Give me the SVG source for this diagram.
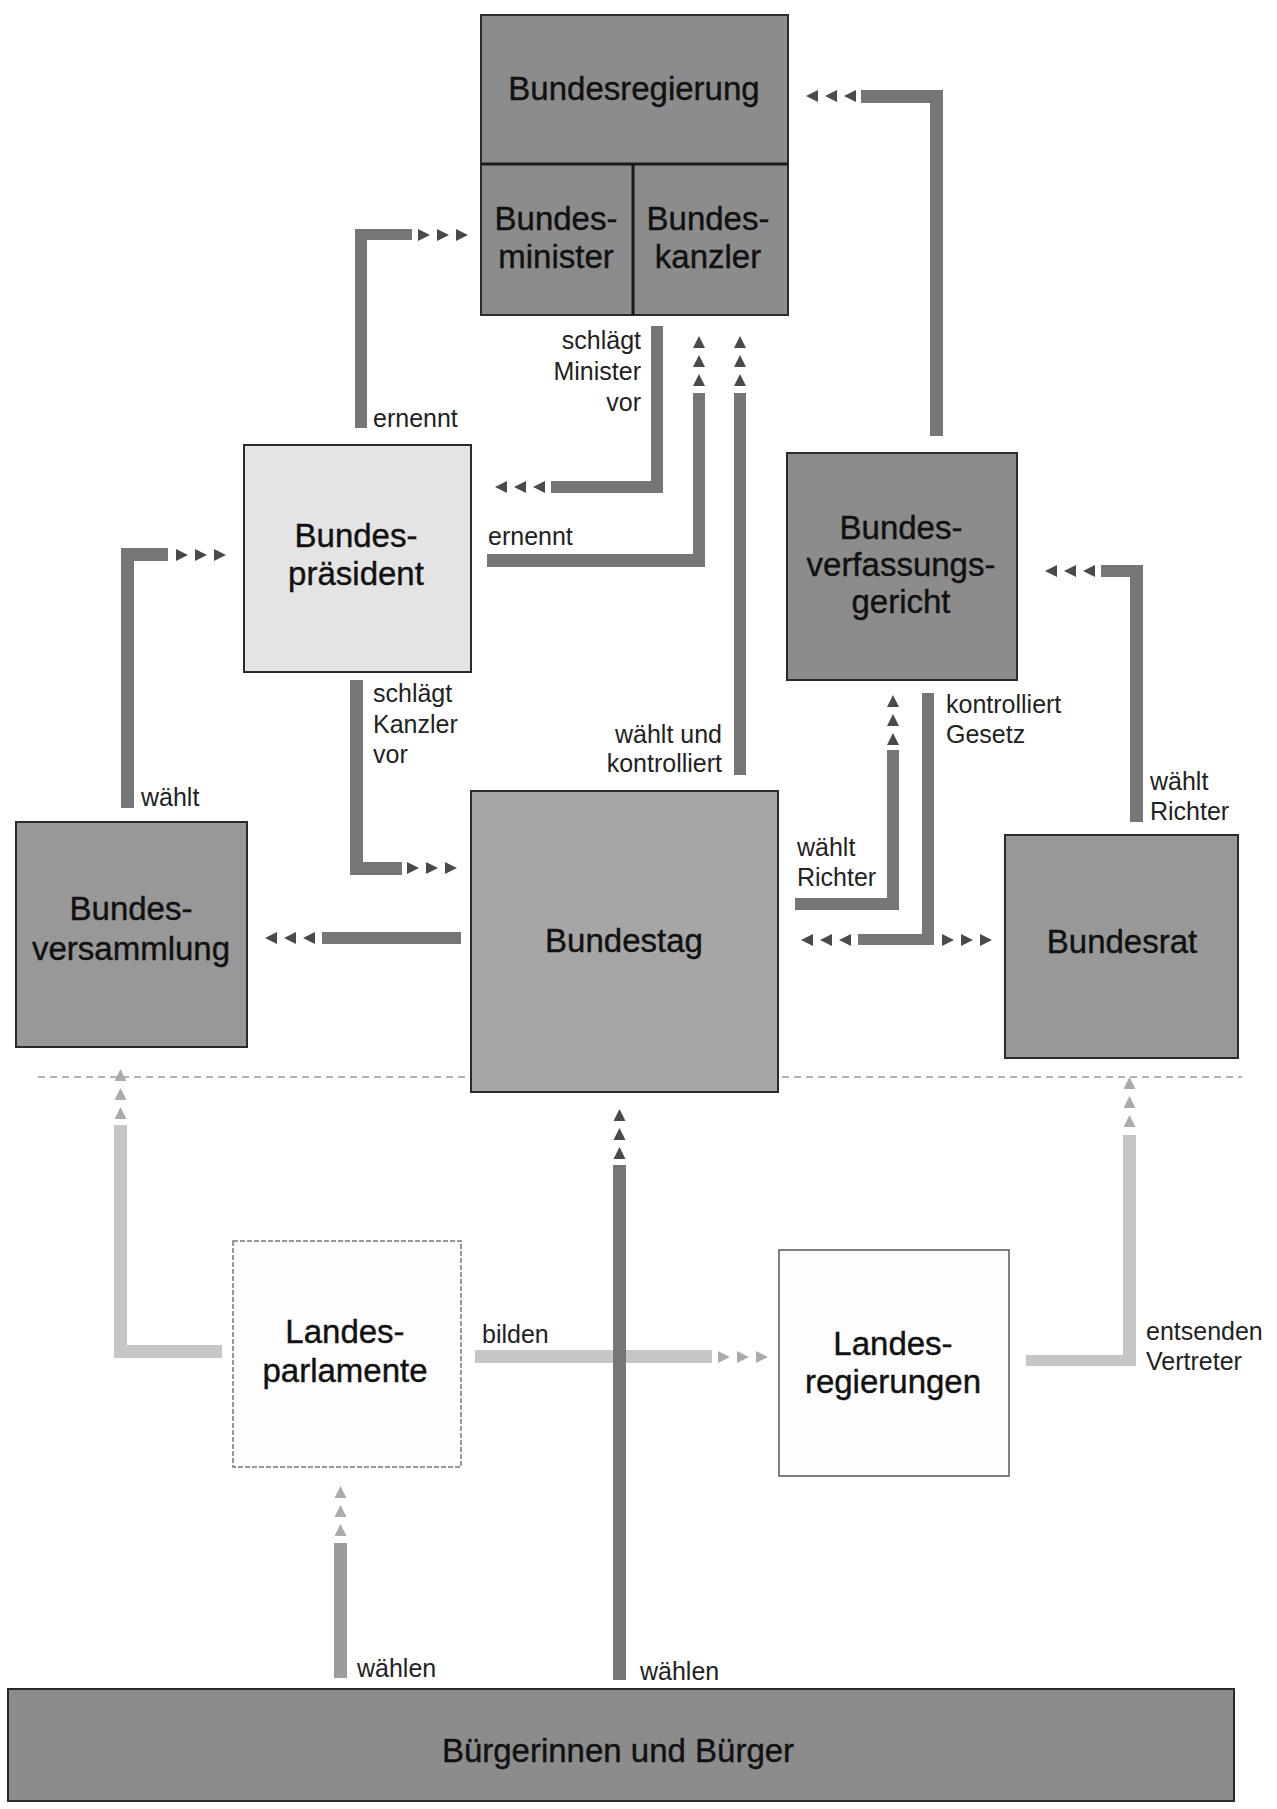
<svg xmlns="http://www.w3.org/2000/svg" width="1277" height="1809" viewBox="0 0 1277 1809">
<style>
.node{stroke:#2a2a2a;stroke-width:2}
.dark{fill:#8c8c8c}
.mid{fill:#989898}
.midl{fill:#a6a6a6}
.light{fill:#e4e4e4}
.white{fill:#fdfdfd;stroke:#555;stroke-width:1.5}
.nt{font-family:"Liberation Sans",Arial,sans-serif;font-size:33px;fill:#111;stroke:#111;stroke-width:0.4;text-anchor:middle}
.lb{font-family:"Liberation Sans",Arial,sans-serif;font-size:25px;fill:#222}
.r{text-anchor:end}
.bar{fill:#767676}
.barl{fill:#c6c6c6}
.barm{fill:#9c9c9c}
.ah{fill:#4a4a4a}
.ahl{fill:#ababab}
</style>
<defs>
<g id="tri3">
<polygon points="0,-6 12,0 0,6"/>
<polygon points="19,-6 31,0 19,6"/>
<polygon points="38,-6 50,0 38,6"/>
</g>
</defs>
<rect width="1277" height="1809" fill="#ffffff"/>
<line x1="38" y1="1077" x2="1242" y2="1077" stroke="#9a9a9a" stroke-width="1.5" stroke-dasharray="7 5"/>

<g id="connectors">
<!-- BP -> Bundesminister: ernennt -->
<rect class="bar" x="355" y="229" width="12" height="199"/>
<rect class="bar" x="355" y="229" width="57" height="11"/>
<use href="#tri3" class="ah" transform="translate(418,235)"/>
<text class="lb" x="373" y="427">ernennt</text>
<!-- Kanzler -> BP: schlägt Minister vor -->
<rect class="bar" x="651" y="326" width="12" height="167"/>
<rect class="bar" x="551" y="481" width="112" height="12"/>
<use href="#tri3" class="ah" transform="translate(545,487) rotate(180)"/>
<text class="lb r" x="641" y="349">schlägt</text>
<text class="lb r" x="641" y="380">Minister</text>
<text class="lb r" x="641" y="411">vor</text>
<!-- BP -> Kanzler: ernennt -->
<rect class="bar" x="487" y="554" width="218" height="13"/>
<rect class="bar" x="693" y="393" width="12" height="174"/>
<use href="#tri3" class="ah" transform="translate(699,386) rotate(-90)"/>
<text class="lb" x="488" y="545">ernennt</text>
<!-- Bundestag -> Kanzler: wählt und kontrolliert -->
<rect class="bar" x="734" y="393" width="12" height="382"/>
<use href="#tri3" class="ah" transform="translate(740,386) rotate(-90)"/>
<text class="lb r" x="722" y="743">wählt und</text>
<text class="lb r" x="722" y="772">kontrolliert</text>
<!-- BVerfG -> Bundesregierung -->
<rect class="bar" x="930" y="90" width="13" height="346"/>
<rect class="bar" x="861" y="90" width="82" height="13"/>
<use href="#tri3" class="ah" transform="translate(856,96) rotate(180)"/>
<!-- Bundesversammlung -> BP: wählt -->
<rect class="bar" x="121" y="548" width="13" height="260"/>
<rect class="bar" x="121" y="548" width="47" height="13"/>
<use href="#tri3" class="ah" transform="translate(176,555)"/>
<text class="lb" x="141" y="806">wählt</text>
<!-- BP -> Bundestag: schlägt Kanzler vor -->
<rect class="bar" x="350" y="680" width="13" height="195"/>
<rect class="bar" x="350" y="862" width="52" height="13"/>
<use href="#tri3" class="ah" transform="translate(407,868)"/>
<text class="lb" x="373" y="702">schlägt</text>
<text class="lb" x="373" y="733">Kanzler</text>
<text class="lb" x="373" y="763">vor</text>
<!-- Bundestag -> Bundesversammlung -->
<rect class="bar" x="322" y="932" width="139" height="12"/>
<use href="#tri3" class="ah" transform="translate(315,938) rotate(180)"/>
<!-- Bundestag -> BVerfG: wählt Richter -->
<rect class="bar" x="795" y="898" width="104" height="12"/>
<rect class="bar" x="887" y="750" width="12" height="160"/>
<use href="#tri3" class="ah" transform="translate(893,745) rotate(-90)"/>
<text class="lb" x="797" y="856">wählt</text>
<text class="lb" x="797" y="886">Richter</text>
<!-- BVerfG -> Bundestag / Bundesrat: kontrolliert Gesetz -->
<rect class="bar" x="922" y="693" width="12" height="252"/>
<rect class="bar" x="858" y="934" width="76" height="11"/>
<use href="#tri3" class="ah" transform="translate(851,940) rotate(180)"/>
<use href="#tri3" class="ah" transform="translate(942,940)"/>
<text class="lb" x="946" y="713">kontrolliert</text>
<text class="lb" x="946" y="743">Gesetz</text>
<!-- Bundesrat -> BVerfG: wählt Richter -->
<rect class="bar" x="1130" y="565" width="13" height="257"/>
<rect class="bar" x="1101" y="565" width="42" height="12"/>
<use href="#tri3" class="ah" transform="translate(1095,571) rotate(180)"/>
<text class="lb" x="1150" y="790">wählt</text>
<text class="lb" x="1150" y="820">Richter</text>
<!-- Landesparlamente -> Bundesversammlung -->
<rect class="barl" x="114" y="1125" width="13" height="233"/>
<rect class="barl" x="114" y="1345" width="108" height="13"/>
<use href="#tri3" class="ahl" transform="translate(120.5,1119) rotate(-90)"/>
<!-- Landesparlamente -> Landesregierungen: bilden -->
<rect class="barl" x="475" y="1350" width="237" height="13"/>
<use href="#tri3" class="ahl" transform="translate(718,1357)"/>
<text class="lb" x="482" y="1343">bilden</text>
<!-- Bürger -> Bundestag: wählen -->
<rect class="bar" x="613" y="1165" width="13" height="515"/>
<use href="#tri3" class="ah" transform="translate(619.5,1159) rotate(-90)"/>
<text class="lb" x="640" y="1680">wählen</text>
<!-- Bürger -> Landesparlamente: wählen -->
<rect class="barm" x="334" y="1543" width="13" height="135"/>
<use href="#tri3" class="ahl" transform="translate(340.5,1536) rotate(-90)"/>
<text class="lb" x="357" y="1677">wählen</text>
<!-- Landesregierungen -> Bundesrat: entsenden Vertreter -->
<rect class="barl" x="1026" y="1355" width="110" height="11"/>
<rect class="barl" x="1123" y="1135" width="13" height="231"/>
<use href="#tri3" class="ahl" transform="translate(1129.5,1127) rotate(-90)"/>
<text class="lb" x="1146" y="1340">entsenden</text>
<text class="lb" x="1146" y="1370">Vertreter</text>
</g>

<g id="bundesregierung">
<rect class="node dark" x="481" y="15" width="307" height="300"/>
<line x1="481" y1="164" x2="788" y2="164" stroke="#1a1a1a" stroke-width="3"/>
<text class="nt" x="634" y="100">Bundesregierung</text>
</g>
<g id="bundesminister">
<line x1="633" y1="164" x2="633" y2="315" stroke="#1a1a1a" stroke-width="3"/>
<text class="nt" x="556" y="230">Bundes-</text>
<text class="nt" x="556" y="268">minister</text>
</g>
<g id="bundeskanzler">
<text class="nt" x="708" y="230">Bundes-</text>
<text class="nt" x="708" y="268">kanzler</text>
</g>
<g id="bundespraesident">
<rect class="node light" x="244" y="445" width="227" height="227"/>
<text class="nt" x="356" y="547">Bundes-</text>
<text class="nt" x="356" y="585">präsident</text>
</g>
<g id="bverfg">
<rect class="node dark" x="787" y="453" width="230" height="227"/>
<text class="nt" x="901" y="539">Bundes-</text>
<text class="nt" x="901" y="576">verfassungs-</text>
<text class="nt" x="901" y="613">gericht</text>
</g>
<g id="bundesversammlung">
<rect class="node mid" x="16" y="822" width="231" height="225"/>
<text class="nt" x="131" y="920">Bundes-</text>
<text class="nt" x="131" y="960">versammlung</text>
</g>
<g id="bundestag">
<rect class="node midl" x="471" y="791" width="307" height="301"/>
<text class="nt" x="624" y="952">Bundestag</text>
</g>
<g id="bundesrat">
<rect class="node mid" x="1005" y="835" width="233" height="223"/>
<text class="nt" x="1122" y="953">Bundesrat</text>
</g>
<g id="landesparlamente">
<rect x="233" y="1241" width="228" height="226" fill="#fdfdfd" stroke="#777" stroke-width="1.5" stroke-dasharray="5 2"/>
<text class="nt" x="345" y="1343">Landes-</text>
<text class="nt" x="345" y="1382">parlamente</text>
</g>
<g id="landesregierungen">
<rect class="white" x="779" y="1250" width="230" height="226"/>
<text class="nt" x="893" y="1355">Landes-</text>
<text class="nt" x="893" y="1393">regierungen</text>
</g>
<g id="buerger">
<rect class="node dark" x="8" y="1689" width="1226" height="112"/>
<text class="nt" x="618" y="1762">Bürgerinnen und Bürger</text>
</g>
</svg>
